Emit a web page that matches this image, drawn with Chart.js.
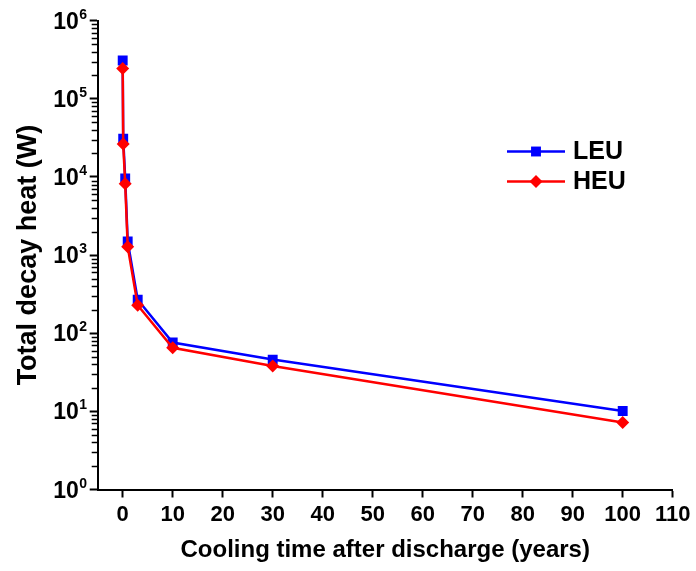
<!DOCTYPE html>
<html>
<head>
<meta charset="utf-8">
<script src="https://cdn.jsdelivr.net/npm/chart.js@4.4.0/dist/chart.umd.min.js"></script>
<style>
    html, body { margin: 0; padding: 0; background: #fff; }
    #wrap { width: 696px; height: 571px; }
</style>
</head>
<body>
<div id="wrap"><canvas id="decayChart" width="696" height="571"></canvas></div>
<script>
const coolingYears = [0, 0.1, 0.5, 1, 3, 10, 30, 100];
const leuHeat = [3.1e5, 3.1e4, 9.6e3, 1.5e3, 268, 76, 46, 10.1];
const heuHeat = [2.45e5, 2.65e4, 8.2e3, 1.28e3, 228, 65, 38, 7.2];
const xTickValues = [0, 10, 20, 30, 40, 50, 60, 70, 80, 90, 100, 110];
const yDecades = [0, 1, 2, 3, 4, 5, 6];

const FONT = "'Liberation Sans', Arial, sans-serif";

function toPoints(ys) {
    return coolingYears.map((x, i) => ({ x: x, y: ys[i] }));
}

// y tick labels as 10 with superscript exponent, minor log ticks, and the legend box
const decorPlugin = {
    id: 'decor',
    afterDraw(chart) {
        const ctx = chart.ctx;
        const yScale = chart.scales.y;
        const left = chart.chartArea.left;
        ctx.save();
        ctx.strokeStyle = '#000';
        ctx.lineWidth = 1.5;
        for (let p = 0; p < 6; p++) {
            for (let k = 2; k <= 9; k++) {
                const y = Math.round(yScale.getPixelForValue(k * Math.pow(10, p))) + 0.5;
                ctx.beginPath();
                ctx.moveTo(left - 6, y);
                ctx.lineTo(left, y);
                ctx.stroke();
            }
        }

        ctx.fillStyle = '#000';
        ctx.textAlign = 'right';
        ctx.textBaseline = 'alphabetic';
        yDecades.forEach(p => {
            const y = yScale.getPixelForValue(Math.pow(10, p));
            ctx.font = 'bold 14px ' + FONT;
            const exp = String(p);
            const expW = ctx.measureText(exp).width;
            ctx.fillText(exp, 87, y - 2);
            ctx.font = 'bold 23px ' + FONT;
            ctx.fillText('10', 87 - expW - 0.5, y + 8);
        });

        // legend
        const rows = [
            { ds: chart.data.datasets[1], y: 151.5 },
            { ds: chart.data.datasets[0], y: 181.5 }
        ];
        rows.forEach(r => {
            ctx.strokeStyle = r.ds.borderColor;
            ctx.lineWidth = r.ds.borderWidth;
            ctx.beginPath();
            ctx.moveTo(507, r.y);
            ctx.lineTo(565, r.y);
            ctx.stroke();
            ctx.fillStyle = r.ds.backgroundColor;
            Chart.helpers.drawPoint(ctx, {
                pointStyle: r.ds.pointStyle,
                radius: r.ds.pointRadius,
                borderWidth: 0
            }, 536, r.y);
            ctx.fillStyle = '#000';
            ctx.font = 'bold 25px ' + FONT;
            ctx.textAlign = 'left';
            ctx.textBaseline = 'middle';
            ctx.fillText(r.ds.label, 573, r.y + 1);
        });
        ctx.restore();
    }
};

new Chart(document.getElementById('decayChart'), {
    type: 'line',
    data: {
        datasets: [
            {
                label: 'HEU',
                data: toPoints(heuHeat),
                borderColor: '#ff0000',
                backgroundColor: '#ff0000',
                borderWidth: 2.5,
                pointStyle: 'rectRot',
                pointRadius: 6.5,
                pointBorderWidth: 0,
                order: 0
            },
            {
                label: 'LEU',
                data: toPoints(leuHeat),
                borderColor: '#0000ff',
                backgroundColor: '#0000ff',
                borderWidth: 2.5,
                pointStyle: 'rect',
                pointRadius: 7,
                pointBorderWidth: 0,
                order: 1
            }
        ]
    },
    options: {
        responsive: false,
        animation: false,
        devicePixelRatio: 1,
        layout: { padding: { left: 0, right: 23.3, top: 20.7, bottom: 0 } },
        plugins: {
            legend: { display: false },
            tooltip: { enabled: false }
        },
        scales: {
            x: {
                type: 'linear',
                min: -5,
                max: 110,
                afterBuildTicks: s => { s.ticks = xTickValues.map(v => ({ value: v })); },
                afterFit: s => { s.height = 81.5; },
                grid: { drawOnChartArea: false, drawTicks: true, tickLength: 8, tickWidth: 2, tickColor: '#000' },
                border: { display: true, color: '#000', width: 2 },
                ticks: {
                    color: '#000',
                    font: { family: FONT, size: 22, weight: 'bold' },
                    padding: 4,
                    maxRotation: 0,
                    autoSkip: false
                },
                title: {
                    display: true,
                    text: 'Cooling time after discharge (years)',
                    color: '#000',
                    font: { family: FONT, size: 24, weight: 'bold' },
                    padding: { top: 0, bottom: 6 }
                }
            },
            y: {
                type: 'logarithmic',
                min: 1,
                max: 1e6,
                afterBuildTicks: s => { s.ticks = yDecades.map(p => ({ value: Math.pow(10, p), major: true })); },
                afterFit: s => { s.width = 97.7; },
                grid: { drawOnChartArea: false, drawTicks: true, tickLength: 8, tickWidth: 2, tickColor: '#000' },
                border: { display: true, color: '#000', width: 2 },
                ticks: { display: false },
                title: {
                    display: true,
                    text: 'Total decay heat (W)',
                    color: '#000',
                    font: { family: FONT, size: 27, weight: 'bold' },
                    padding: { top: 12, bottom: 0 }
                }
            }
        }
    },
    plugins: [decorPlugin]
});
</script>
</body>
</html>
